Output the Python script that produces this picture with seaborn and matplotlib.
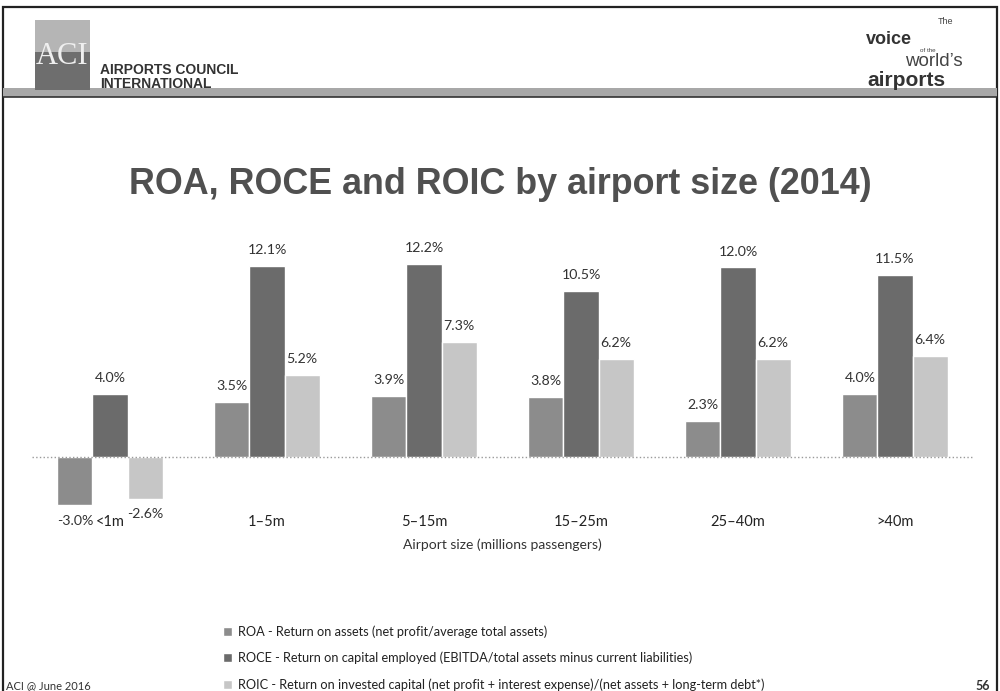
import matplotlib
matplotlib.use("Agg")
import matplotlib.pyplot as plt
from matplotlib.patches import Rectangle
import pandas as pd
import seaborn as sns

# === DATA ===
sizes = ["<1m", "1\u20135m", "5\u201315m", "15\u201325m", "25\u201340m", ">40m"]
roa = [-3.0, 3.5, 3.9, 3.8, 2.3, 4.0]
roce = [4.0, 12.1, 12.2, 10.5, 12.0, 11.5]
roic = [-2.6, 5.2, 7.3, 6.2, 6.2, 6.4]
metrics = ["ROA", "ROCE", "ROIC"]
descriptions = [
    "ROA - Return on assets (net profit/average total assets)",
    "ROCE - Return on capital employed (EBITDA/total assets minus current liabilities)",
    "ROIC - Return on invested capital (net profit + interest expense)/(net assets + long-term debt*)",
]
colors = ["#8c8c8c", "#6b6b6b", "#c6c6c6"]

df = pd.DataFrame({
    "Size": sizes * 3,
    "Metric": [m for m in metrics for _ in sizes],
    "Value": roa + roce + roic,
})

# === FIGURE ===
sns.set_style("white")
plt.rcParams["font.family"] = ["Lato", "DejaVu Sans"]

fig = plt.figure(figsize=(10, 6.91), dpi=100)
W, H = 1000, 691


def fy(px):
    return 1 - px / H


# slide frame + header band
fig.add_artist(Rectangle((0.003, -0.01), 0.994, fy(7) + 0.01, fill=False,
                         lw=1.6, ec="#222222", transform=fig.transFigure))
fig.add_artist(Rectangle((0.003, fy(97)), 0.994, 9 / H, fc="#a8a8a8", ec="none",
                         transform=fig.transFigure))
fig.add_artist(Rectangle((0.003, fy(97)), 0.994, 0.0, fill=False, lw=1.2,
                         ec="#333333", transform=fig.transFigure))

# ACI logo
fig.add_artist(Rectangle((0.035, fy(90)), 0.055, 70 / H, fc="#b5b5b5", ec="none",
                         transform=fig.transFigure))
fig.add_artist(Rectangle((0.035, fy(90)), 0.055, 38 / H, fc="#6e6e6e", ec="none",
                         transform=fig.transFigure))
fig.text(0.0625, fy(56), "ACI", family="Liberation Serif", fontsize=22,
         color="#efefef", ha="center", va="center")
fig.text(0.100, fy(70), "AIRPORTS COUNCIL", family="Liberation Sans",
         fontweight="bold", fontsize=10, color="#333333", va="center")
fig.text(0.100, fy(84), "INTERNATIONAL", family="Liberation Sans",
         fontweight="bold", fontsize=10, color="#333333", va="center")

# tagline top right
fig.text(0.938, fy(22), "The", family="Liberation Sans", fontsize=6.5,
         color="#444444", va="center")
fig.text(0.866, fy(40), "voice", family="Liberation Sans", fontweight="bold",
         fontsize=13, color="#333333", va="center")
fig.text(0.920, fy(51), "of the", family="Liberation Sans", fontsize=4.5,
         color="#444444", va="center")
fig.text(0.905, fy(62), "world\u2019s", family="Liberation Sans",
         fontsize=13.5, color="#444444", va="center")
fig.text(0.867, fy(80), "airports", family="Liberation Sans", fontweight="bold",
         fontsize=15, color="#333333", va="center")

# title
fig.text(0.5, fy(185), "ROA, ROCE and ROIC by airport size (2014)",
         family="Liberation Sans", fontweight="bold", fontsize=25.8,
         color="#505050", ha="center", va="center")

# === CHART ===
ax = fig.add_axes([0.0315, fy(512), 0.942, (512 - 234) / H])
sns.barplot(data=df, x="Size", y="Value", hue="Metric", order=sizes,
            hue_order=metrics, palette=colors, saturation=1, width=0.67,
            gap=0, ax=ax)
ax.set_xlim(-0.5, 5.5)
ax.set_ylim(-3.45, 14.1)
ax.axhline(0, color="#9a9a9a", lw=1, ls=":")
for cont in ax.containers:
    ax.bar_label(cont, labels=[f"{v:.1f}%" for v in cont.datavalues],
                 padding=7, fontsize=10.2, color="#333333")
sns.despine(ax=ax, left=True, bottom=True)
ax.set_yticks([])
ax.tick_params(axis="x", length=0, pad=2, labelsize=10.5, labelcolor="#222222")
ax.set_ylabel("")
ax.set_xlabel("Airport size (millions passengers)", fontsize=10,
              color="#333333", labelpad=7)

handles = ax.get_legend().legend_handles
ax.legend(handles, descriptions, loc="center left",
          bbox_to_anchor=(0.211, fy(658)), bbox_transform=fig.transFigure,
          frameon=False, fontsize=9.2, handlelength=0.75, handleheight=0.75,
          handletextpad=0.45, labelspacing=1.1, labelcolor="#222222")

# footer
fig.text(0.006, fy(686), "ACI @ June 2016", fontsize=8, color="#333333",
         va="center")
fig.text(0.975, fy(686), "56", fontsize=9, fontweight="bold", color="#333333",
         va="center")

fig.savefig("out.png", dpi=100)
